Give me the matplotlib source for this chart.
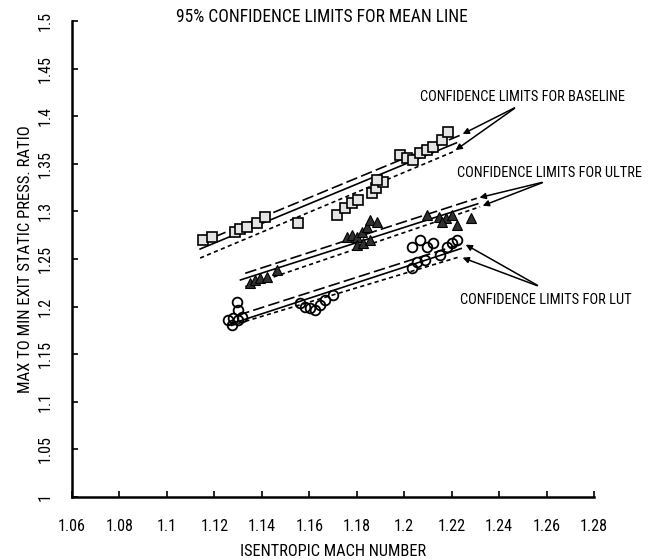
import numpy as np
import matplotlib.pyplot as plt
from matplotlib import font_manager as fm

# pick a narrow, regular-weight sans face if one is installed
narrow_names = ['Liberation Sans Narrow', 'Arial Narrow', 'Noto Sans', 'Open Sans',
                'Roboto', 'DejaVu Sans']
weights = {'normal': 400, 'regular': 400, 'book': 400, 'medium': 500, 'light': 300}


def weight_of(f):
    w = f.weight
    if isinstance(w, str):
        w = weights.get(w.lower(), 700)
    return w


cond = [f for f in fm.fontManager.ttflist if f.style == 'normal' and
        350 <= weight_of(f) <= 500 and
        (f.stretch in ('condensed', 'semi-condensed', 'extra-condensed')
         or 'Narrow' in f.name or 'Condensed' in f.name)]
family, stretch = 'Liberation Sans', 'normal'
for name in narrow_names:
    hit = [f for f in cond if f.name.startswith(name)]
    if hit:
        family, stretch = hit[0].name, hit[0].stretch
        break
plt.rcParams['font.family'] = [family, 'Liberation Sans', 'DejaVu Sans']
plt.rcParams['font.stretch'] = stretch
plt.rcParams['font.weight'] = 'normal'

# baseline (squares)
base_x = [1.1153, 1.1189, 1.1287, 1.1308, 1.1336, 1.1378, 1.1413, 1.1554, 1.1716, 1.1751,
          1.1779, 1.1807, 1.1863, 1.1881, 1.1912, 1.1884, 1.1982, 1.2011, 1.2038, 1.2067,
          1.2095, 1.2123, 1.2158, 1.2186]
base_y = [1.270, 1.2734, 1.2787, 1.2812, 1.284, 1.2875, 1.2945, 1.2875, 1.2962, 1.3032,
          1.3085, 1.312, 1.319, 1.3243, 1.3312, 1.333, 1.3592, 1.3557, 1.354, 1.361,
          1.3645, 1.368, 1.375, 1.3837]

# ultre (triangles)
ultre_x = [1.1350, 1.1371, 1.1392, 1.1420, 1.1463, 1.1758, 1.1779, 1.1800, 1.1821, 1.1842,
           1.1856, 1.1884, 1.1800, 1.1828, 1.1856, 1.2098, 1.2147, 1.2175, 1.2203, 1.2224,
           1.2280, 1.2161]
ultre_y = [1.2245, 1.228, 1.2297, 1.2314, 1.2384, 1.2734, 1.2752, 1.2734, 1.2787, 1.2839,
           1.291, 1.2892, 1.2647, 1.2665, 1.270, 1.2962, 1.2944, 1.2927, 1.2962, 1.2857,
           1.2927, 1.2892]

# lut (circles)
lut_x = [1.1294, 1.1301, 1.1259, 1.1280, 1.1301, 1.1315, 1.1273, 1.1561, 1.1582, 1.1603,
         1.1624, 1.1645, 1.1666, 1.1701, 1.2031, 1.2067, 1.2031, 1.2052, 1.2088, 1.2095,
         1.2123, 1.2151, 1.2179, 1.2200, 1.2221]
lut_y = [1.2051, 1.1964, 1.186, 1.1877, 1.186, 1.1894, 1.1807, 1.2035, 1.1999, 1.1982,
         1.1964, 1.2017, 1.2069, 1.2122, 1.2629, 1.270, 1.2402, 1.2472, 1.249, 1.2629,
         1.2665, 1.2542, 1.2629, 1.2665, 1.270]

# mean lines and 95% limits: (x0, x1), (y0, y1)
base_mean = ([1.114, 1.222], [1.2605, 1.372])
base_upper = ([1.114, 1.2236], [1.267, 1.380])
base_lower = ([1.114, 1.2207], [1.251, 1.3627])

ultre_mean = ([1.131, 1.231], [1.228, 1.308])
ultre_upper = ([1.133, 1.2306], [1.235, 1.3138])
ultre_lower = ([1.133, 1.232], [1.221, 1.3049])

lut_mean = ([1.126, 1.224], [1.181, 1.261])
lut_upper = ([1.130, 1.2249], [1.191, 1.2665])
lut_lower = ([1.127, 1.2235], [1.180, 1.2524])

xticks = [1.06, 1.08, 1.10, 1.12, 1.14, 1.16, 1.18, 1.20, 1.22, 1.24, 1.26, 1.28]
xtick_labels = ['1.06', '1.08', '1.1', '1.12', '1.14', '1.16', '1.18', '1.2',
                '1.22', '1.24', '1.26', '1.28']
yticks = [1.0, 1.05, 1.1, 1.15, 1.2, 1.25, 1.3, 1.35, 1.4, 1.45, 1.5]
ytick_labels = ['1', '1.05', '1.1', '1.15', '1.2', '1.25', '1.3', '1.35', '1.4',
                '1.45', '1.5']

fig = plt.figure(figsize=(6.54, 5.6), dpi=100)
ax = fig.add_axes([72/654, 63/560, 522/654, 476/560])
renderer = fig.canvas.get_renderer()


def fit(t, width):
    # scale font so the text spans the given width in pixels
    bb = t.get_window_extent(renderer)
    t.set_fontsize(t.get_fontsize() * width / max(bb.width, bb.height))


for mean, upper, lower in [(base_mean, base_upper, base_lower),
                           (ultre_mean, ultre_upper, ultre_lower),
                           (lut_mean, lut_upper, lut_lower)]:
    ax.plot(*mean, color='black', lw=1.2)
    ax.plot(*upper, color='black', lw=1.2, linestyle=(0, (7, 2.5)))
    ax.plot(*lower, color='black', lw=1.2, linestyle=(0, (2.5, 2)))

ax.plot(base_x, base_y, 's', ms=6.5, mfc='#e4e4e4', mec='black', mew=1.2)
ax.plot(ultre_x, ultre_y, '^', ms=6.5, mfc='#303030', mec='black', mew=0.8)
ax.plot(lut_x, lut_y, 'o', ms=7, mfc='none', mec='black', mew=1.3)

# labels with arrows to the ends of the limit lines
arr = dict(arrowstyle='-|>', color='black', lw=1.1, mutation_scale=9)
t1 = ax.text(1.2067, 1.420, 'CONFIDENCE LIMITS FOR BASELINE', fontsize=10,
             va='center', ha='left')
ax.annotate('', xy=(base_upper[0][1], base_upper[1][1]), xytext=(1.2475, 1.410), arrowprops=arr)
ax.annotate('', xy=(base_lower[0][1], base_lower[1][1]), xytext=(1.2475, 1.410), arrowprops=arr)

t2 = ax.text(1.2223, 1.340, 'CONFIDENCE LIMITS FOR ULTRE', fontsize=10,
             va='center', ha='left')
ax.annotate('', xy=(ultre_upper[0][1], ultre_upper[1][1]), xytext=(1.2593, 1.3312), arrowprops=arr)
ax.annotate('', xy=(ultre_lower[0][1], ultre_lower[1][1]), xytext=(1.2593, 1.3312), arrowprops=arr)

t3 = ax.text(1.2235, 1.207, 'CONFIDENCE LIMITS FOR LUT', fontsize=10,
             va='center', ha='left')
ax.annotate('', xy=(lut_upper[0][1], lut_upper[1][1]), xytext=(1.2572, 1.2209), arrowprops=arr)
ax.annotate('', xy=(lut_lower[0][1], lut_lower[1][1]), xytext=(1.2572, 1.2209), arrowprops=arr)

title = fig.text(322/654, 1 - 17/560, '95% CONFIDENCE LIMITS FOR MEAN LINE', fontsize=12,
                 ha='center', va='center')

fit(t1, 206)
fit(t2, 186)
fit(t3, 172)
fit(title, 291)

ax.set_xlim(1.06, 1.28)
ax.set_ylim(1.0, 1.5)
ax.set_xticks(xticks)
ax.set_xticklabels(xtick_labels)
ax.set_yticks(yticks)
ax.set_yticklabels(ytick_labels, rotation=90, va='center')

probe = fig.text(0, 0, '1.06', fontsize=12)
fit(probe, 28)
tick_size = probe.get_fontsize()
probe.remove()

ax.tick_params(direction='in', length=4, width=1.2, labelsize=tick_size)
ax.tick_params(axis='x', pad=16)
ax.tick_params(axis='y', pad=14)
for s in ['top', 'right']:
    ax.spines[s].set_visible(False)
for s in ['left', 'bottom']:
    ax.spines[s].set_linewidth(1.8)

xl = ax.set_xlabel('ISENTROPIC MACH NUMBER', fontsize=12)
yl = ax.set_ylabel('MAX TO MIN EXIT STATIC PRESS. RATIO', fontsize=12)
fit(xl, 185)
fit(yl, 268)
ax.xaxis.set_label_coords(0.5, -0.098)
ax.yaxis.set_label_coords(-0.074, 0.5)

fig.savefig('out.png', dpi=100)
